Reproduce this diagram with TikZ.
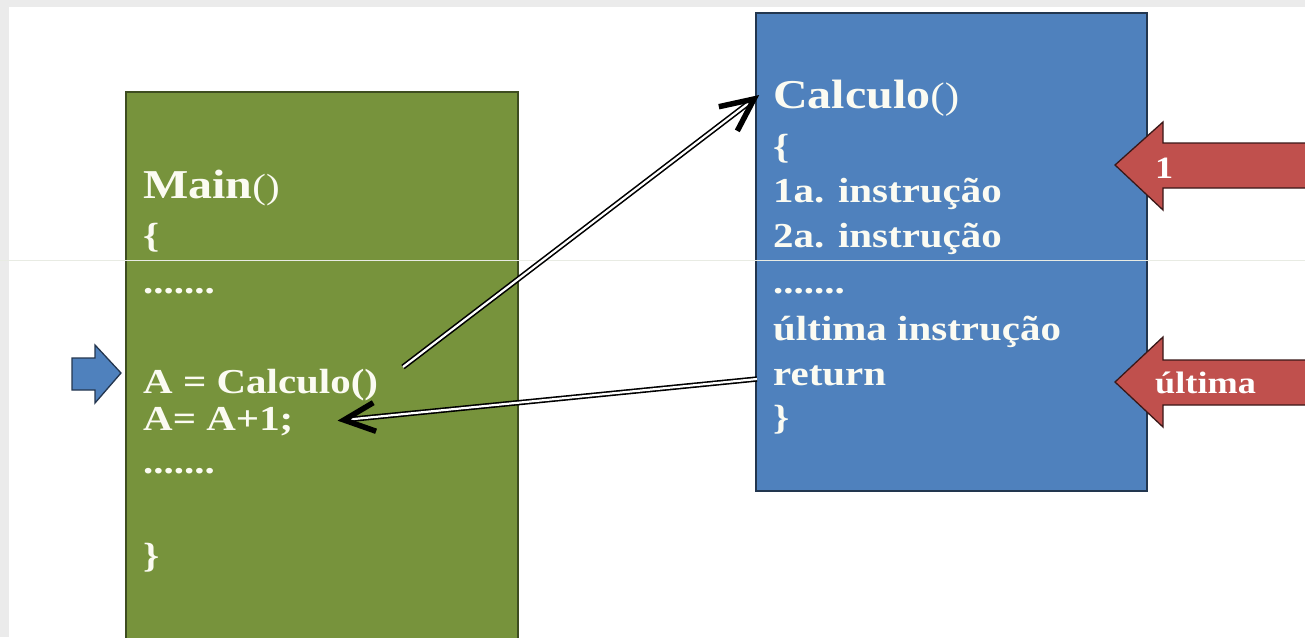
\documentclass[tikz,border=0pt]{standalone}
\usepackage{fontspec}
\setmainfont{Liberation Serif}[FakeStretch=1.17]
\usetikzlibrary{calc}

\definecolor{slidegray}{HTML}{EBEBEB}
\definecolor{mainfill}{HTML}{77933C}
\definecolor{mainline}{HTML}{3E4D20}
\definecolor{calcfill}{HTML}{4F81BD}
\definecolor{calcline}{HTML}{22364F}
\definecolor{markfill}{HTML}{C0504D}
\definecolor{markline}{HTML}{3A1818}
\definecolor{cuefill}{HTML}{4F81BD}
\definecolor{cueline}{HTML}{24364F}
\definecolor{inktext}{HTML}{FBFBF2}
\definecolor{rule}{HTML}{E8EBE3}

\begin{document}
\begin{tikzpicture}[x=1pt,y=-1pt,
  code/.style={anchor=base west, inner sep=0pt, text=inktext,
    font=\fontsize{35}{40}\selectfont\bfseries},
  head/.style={anchor=base west, inner sep=0pt, text=inktext,
    font=\fontsize{41}{46}\selectfont\bfseries},
  block/.style={line width=1.3pt, anchor=north west, inner sep=0pt, outer sep=0pt},
  flow/.style={draw=black, line width=1.6pt, double=white, double distance=2.2pt},
  barb/.style={draw=black, line width=5.5pt, line join=miter},
  tag/.style={anchor=base west, inner sep=0pt, text=white,
    font=\fontsize{31}{36}\selectfont\bfseries},
  pointer/.style={line width=1.3pt, line join=miter}]

% page and frame
\clip (0,0) rectangle (1305,637);
\fill[slidegray] (0,0) rectangle (1305,637);
\fill[white] (9,7) rectangle (1305,637);

% the two routines
\node[block, fill=mainfill, draw=mainline, minimum width=392pt, minimum height=580pt]
  (main) at (126,92) {};
\node[block, fill=calcfill, draw=calcline, minimum width=391pt, minimum height=478pt]
  (calc) at (756,13) {};

% divider across the slide
\draw[rule, line width=1pt] (0,260) -- (1305,260);

% block arrows
\draw[pointer, fill=cuefill, draw=cueline]
  (121,373) -- (95,345) -- (95,358) -- (72,358) -- (72,390) -- (95,390) -- (95,403) -- cycle;
\draw[pointer, fill=markfill, draw=markline]
  (1115,165) -- (1163,122) -- (1163,143) -- (1320,143) -- (1320,188) -- (1163,188) -- (1163,210) -- cycle;
\draw[pointer, fill=markfill, draw=markline]
  (1115,382) -- (1163,337) -- (1163,360) -- (1320,360) -- (1320,405) -- (1163,405) -- (1163,427) -- cycle;
\node[tag] (stepone) at (1155,178) {1};
\node[tag] (steplast) at (1155,393) {última};

% Main()
\node[head] (mainname) at (143,198) {Main\fontsize{35}{40}\selectfont\mdseries()};
\node[code] (mainopen) at (143,247) {\{};
\node[code] (maindots) at (143,293) {.......};
\node[code] (callline) at (143,393) {A = Calculo()};
\node[code] (incline) at (143,430) {A= A+1;};
\node[code] (maindots2) at (143,473) {.......};
\node[code] (mainclose) at (143,567) {\}};

% Calculo()
\node[head] (calcname) at (773,108) {Calculo\fontsize{37}{42}\selectfont\mdseries()};
\node[code] (calcopen) at (773,158) {\{};
\node[code] (first) at (773,202) {1a. instrução};
\node[code] (second) at (773,247) {2a. instrução};
\node[code] (calcdots) at (773,293) {.......};
\node[code] (lastline) at (773,340) {última instrução};
\node[code] (retline) at (773,385) {return};
\node[code] (calcclose) at (773,429) {\}};

% call and return
\coordinate (callout) at (403,367);
\coordinate (entry) at (754,99);
\coordinate (retfrom) at (757,379);
\coordinate (retto) at (344,420);

\draw[flow] (callout) -- (entry);
\draw[barb] ($(entry)!36pt!25:(callout)$) -- (entry) -- ($(entry)!36pt!-25:(callout)$);

\draw[flow] (retfrom) -- (retto);
\draw[barb] ($(retto)!34pt!25:(retfrom)$) -- (retto) -- ($(retto)!34pt!-25:(retfrom)$);
\end{tikzpicture}
\end{document}
